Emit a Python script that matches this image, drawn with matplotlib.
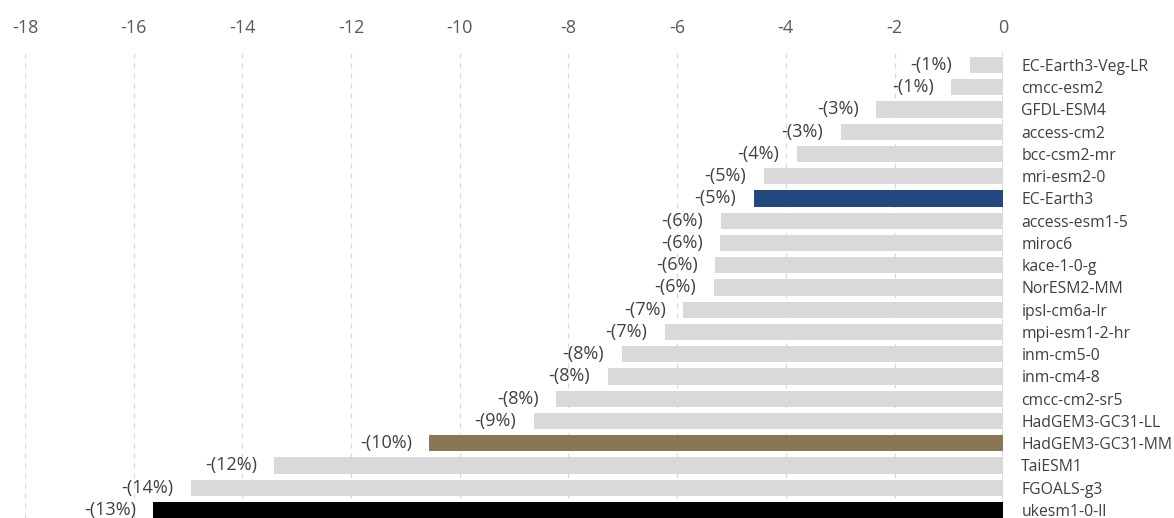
import matplotlib.pyplot as plt
import numpy as np

# Model names, top to bottom
models = ['EC-Earth3-Veg-LR', 'cmcc-esm2', 'GFDL-ESM4', 'access-cm2', 'bcc-csm2-mr',
          'mri-esm2-0', 'EC-Earth3', 'access-esm1-5', 'miroc6', 'kace-1-0-g',
          'NorESM2-MM', 'ipsl-cm6a-lr', 'mpi-esm1-2-hr', 'inm-cm5-0', 'inm-cm4-8',
          'cmcc-cm2-sr5', 'HadGEM3-GC31-LL', 'HadGEM3-GC31-MM', 'TaiESM1',
          'FGOALS-g3', 'ukesm1-0-ll']
change = [-0.62, -0.96, -2.34, -2.99, -3.80, -4.41, -4.59, -5.20, -5.21, -5.30,
          -5.33, -5.89, -6.23, -7.02, -7.28, -8.23, -8.64, -10.56, -13.41,
          -14.95, -15.64]
pct_labels = ['-(1%)', '-(1%)', '-(3%)', '-(3%)', '-(4%)', '-(5%)', '-(5%)', '-(6%)',
              '-(6%)', '-(6%)', '-(6%)', '-(7%)', '-(7%)', '-(8%)', '-(8%)', '-(8%)',
              '-(9%)', '-(10%)', '-(12%)', '-(14%)', '-(13%)']
x_ticks = [-18, -16, -14, -12, -10, -8, -6, -4, -2, 0]

highlight = {'EC-Earth3': '#21497d', 'HadGEM3-GC31-MM': '#8a7655', 'ukesm1-0-ll': '#000000'}
colors = [highlight.get(m, '#d9d9d9') for m in models]

plt.rcParams['font.family'] = ['Open Sans', 'DejaVu Sans']
plt.rcParams['axes.unicode_minus'] = False

fig = plt.figure(figsize=(11.74, 5.18), dpi=100)
ax = fig.add_axes([24.9 / 1174, 0, (1003.2 - 24.9) / 1174, 466 / 518])

y = np.arange(len(models))
ax.barh(y, change, height=0.72, color=colors, zorder=2)

for yi, v, lab in zip(y, change, pct_labels):
    ax.annotate(lab, (v, yi), xytext=(-12.5, 0), textcoords='offset points',
                ha='right', va='center', fontsize=13, color='#404040')

ax.set_xlim(-18, 0)
ax.set_ylim(20.36, -0.584)
ax.set_xticks(x_ticks)
ax.xaxis.tick_top()
ax.tick_params(axis='x', length=0, pad=11, labelsize=13, labelcolor='#595959')
ax.set_yticks(y)
ax.set_yticklabels(models)
ax.yaxis.tick_right()
ax.tick_params(axis='y', length=0, pad=13, labelsize=11.3, labelcolor='#404040')

ax.grid(axis='x', linestyle=(0, (4, 4)), color='#d9d9d9', linewidth=0.9, zorder=0)
ax.axvline(0, color='#d9d9d9', linewidth=1.2, zorder=1)
for s in ax.spines.values():
    s.set_visible(False)

fig.savefig('out.png', dpi=100)
